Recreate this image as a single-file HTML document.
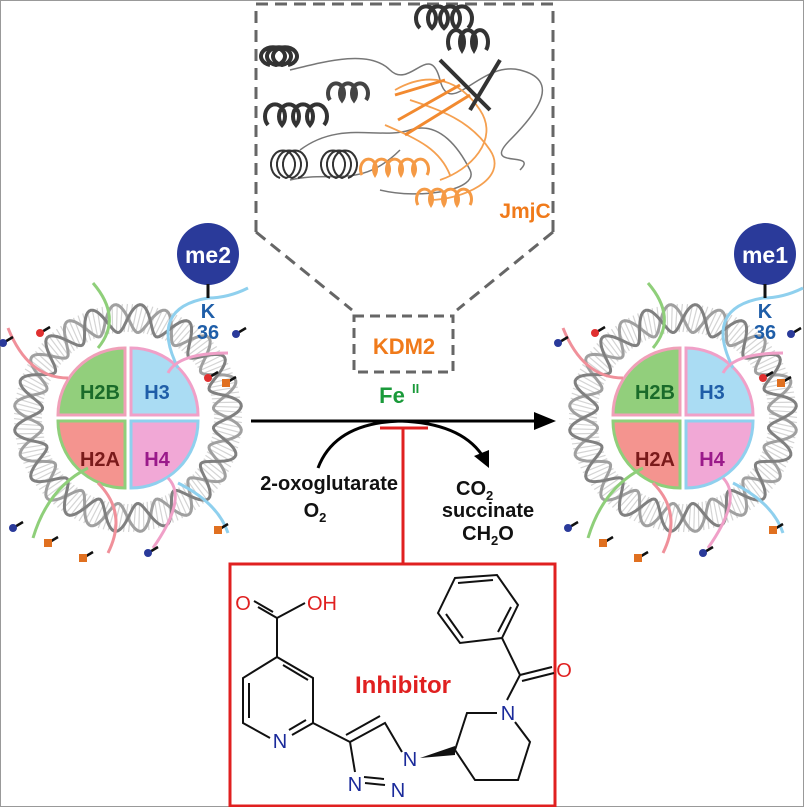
<!DOCTYPE html>
<html><head><meta charset="utf-8"><style>
html,body{margin:0;padding:0;background:#fff}
svg{display:block}
text{font-family:"Liberation Sans",sans-serif;font-weight:bold}
</style></head><body>
<svg id="s" width="805" height="807" viewBox="0 0 805 807" xmlns="http://www.w3.org/2000/svg">
<rect x="0.5" y="0.5" width="803" height="806" fill="#fff" stroke="#999" stroke-width="1"/>
<path d="M256,232 V4 H553 V232" fill="none" stroke="#666" stroke-width="3" stroke-dasharray="12,7"/>
<path d="M256,232 L352,310 M553,232 L457,310" stroke="#666" stroke-width="3" stroke-dasharray="12,7"/>
<rect x="354" y="316" width="99" height="56" fill="none" stroke="#666" stroke-width="3" stroke-dasharray="10,6"/>
<text x="404" y="354" font-size="22" fill="#f07a1a" text-anchor="middle">KDM2</text>
<text x="392" y="403" font-size="22" fill="#1a9a3a" text-anchor="middle">Fe</text>
<text x="412" y="393" font-size="13" fill="#1a9a3a">II</text>
<g id="prot"></g>
<text x="525" y="218" font-size="21" fill="#f07a1a" text-anchor="middle">JmjC</text>
<line x1="251" y1="421" x2="540" y2="421" stroke="#000" stroke-width="3"/>
<polygon points="556,421 534,412 534,430" fill="#000"/>
<path d="M318,468 Q335,423 400,421 Q460,423 482,455" fill="none" stroke="#000" stroke-width="3"/>
<polygon points="489,468 474,456 489,450" fill="#000"/>
<line x1="380" y1="428" x2="428" y2="428" stroke="#e02020" stroke-width="3"/>
<line x1="403" y1="428" x2="403" y2="564" stroke="#e02020" stroke-width="3"/>
<rect x="230" y="564" width="325" height="242" fill="none" stroke="#e02020" stroke-width="3"/>
<text x="398" y="490" font-size="20" fill="#111" text-anchor="end">2-oxoglutarate</text>
<text x="315" y="517" font-size="20" fill="#111" text-anchor="middle">O<tspan font-size="13" dy="5">2</tspan></text>
<text x="456" y="495" font-size="20" fill="#111">CO<tspan font-size="13" dy="5">2</tspan></text>
<text x="488" y="517" font-size="20" fill="#111" text-anchor="middle">succinate</text>
<text x="488" y="540" font-size="20" fill="#111" text-anchor="middle">CH<tspan font-size="13" dy="5">2</tspan><tspan dy="-5">O</tspan></text>
<g id="nuc1"></g><g id="nuc2"></g>
<g font-size="20" text-anchor="middle">
<text x="100" y="399" fill="#1a6b2a">H2B</text><text x="157" y="399" fill="#1f5ea8">H3</text>
<text x="100" y="466" fill="#7a1a1a">H2A</text><text x="157" y="466" fill="#9a1a8a">H4</text>
<text x="655" y="399" fill="#1a6b2a">H2B</text><text x="712" y="399" fill="#1f5ea8">H3</text>
<text x="655" y="466" fill="#7a1a1a">H2A</text><text x="712" y="466" fill="#9a1a8a">H4</text>
</g>
<circle cx="208" cy="254" r="31" fill="#2a3a9a"/>
<text x="208" y="263" font-size="23" fill="#fff" text-anchor="middle">me2</text>
<line x1="208" y1="284" x2="208" y2="298" stroke="#111" stroke-width="3"/>
<text x="208" y="318" font-size="20" fill="#1f5ea8" text-anchor="middle">K</text>
<text x="208" y="339" font-size="20" fill="#1f5ea8" text-anchor="middle">36</text>
<circle cx="765" cy="254" r="31" fill="#2a3a9a"/>
<text x="765" y="263" font-size="23" fill="#fff" text-anchor="middle">me1</text>
<line x1="765" y1="284" x2="765" y2="298" stroke="#111" stroke-width="3"/>
<text x="765" y="318" font-size="20" fill="#1f5ea8" text-anchor="middle">K</text>
<text x="765" y="339" font-size="20" fill="#1f5ea8" text-anchor="middle">36</text>
<g stroke="#111" stroke-width="2" fill="none">
<path d="M277,618 L277,657 L313,678 L313,723 L292,735 M270,738 L243,723 L243,678 L277,657"/>
<path d="M283,665 L308,680 M249,683 L249,718 M306,720 L289,730"/>
<path d="M277,618 L258,607 M273,612 L254,601 M277,618 L305,603"/>
<path d="M313,723 L350,742 L385,723 L402,752 M350,742 L355,772 M380,716 L346,735"/>
<path d="M365,783 L385,785 M364,777 L384,779"/>
<path d="M455,750 L467,713 L497,713 M515,722 L530,742 L518,780 L475,780 L455,750"/>
<path d="M507,700 L520,675 L502,638 L460,643 L438,613 L455,578 L497,575 L518,605 L502,638 M520,675 L552,667 M522,681 L554,673"/>
<path d="M463,638 L446,614 M458,583 L493,580 M511,607 L498,632"/>
</g>
<polygon points="420,758 455,746 455,755" fill="#111"/>
<g font-size="20" text-anchor="middle">
<text x="243" y="610" fill="#e02020" style="font-weight:normal">O</text>
<text x="322" y="610" fill="#e02020" style="font-weight:normal">OH</text>
<text x="564" y="677" fill="#e02020" style="font-weight:normal">O</text>
<text x="280" y="748" fill="#1a2a9a" style="font-weight:normal">N</text>
<text x="410" y="766" fill="#1a2a9a" style="font-weight:normal">N</text>
<text x="398" y="797" fill="#1a2a9a" style="font-weight:normal">N</text>
<text x="355" y="791" fill="#1a2a9a" style="font-weight:normal">N</text>
<text x="508" y="720" fill="#1a2a9a" style="font-weight:normal">N</text>
</g>
<text x="403" y="693" font-size="24" fill="#e02020" text-anchor="middle">Inhibitor</text>
</svg>
<script>
var NS="http://www.w3.org/2000/svg";
function el(p,t,a){var e=document.createElementNS(NS,t);for(var k in a)e.setAttribute(k,a[k]);p.appendChild(e);return e;}
function nuc(g,cx,cy){
 for(var i=0;i<140;i++){var a=i*Math.PI*2/140;var r1=86,r2=114;el(g,"line",{x1:cx+r1*Math.cos(a),y1:cy+r1*Math.sin(a),x2:cx+r2*Math.cos(a+0.04),y2:cy+r2*Math.sin(a+0.04),stroke:"#d4d4d4","stroke-width":1.2});}
 for(var s=0;s<2;s++){var d="";for(var i=0;i<=360;i++){var a=i*Math.PI/180;var r=100+14*Math.sin(a*14+s*Math.PI);d+=(i?"L":"M")+(cx+r*Math.cos(a)).toFixed(1)+","+(cy+r*Math.sin(a)).toFixed(1);}
 el(g,"path",{d:d,fill:"none",stroke:s?"#808080":"#a0a0a0","stroke-width":3});}
 var r=67,gp=3,P=Math.PI;
 function q(x0,y0,a0,a1,fill,st){var p="M"+(cx+x0)+","+(cy+y0)+" L"+(cx+x0+r*Math.cos(a0))+","+(cy+y0+r*Math.sin(a0))+" A"+r+","+r+" 0 0 1 "+(cx+x0+r*Math.cos(a1))+","+(cy+y0+r*Math.sin(a1))+" Z";el(g,"path",{d:p,fill:fill,stroke:st,"stroke-width":3});}
 q(-gp,-gp,P,1.5*P,"#92cf7c","#f0a0b8");
 q(gp,-gp,1.5*P,2*P,"#aadcf3","#f0a0c8");
 q(-gp,gp,0.5*P,P,"#f4948f","#8fcf7a");
 q(gp,gp,0,0.5*P,"#f1a8d6","#8fd0ee");
 var T=[["#8fcf7a","M"+(cx-30)+","+(cy-70)+" q25,-30 -5,-65"],["#f0909a","M"+(cx-60)+","+(cy-40)+" q-40,0 -60,-50"],
 ["#8fd0ee","M"+(cx+50)+","+(cy-50)+" q-30,-60 30,-70 q20,0 40,-10"],["#f0a0c8","M"+(cx+40)+","+(cy-45)+" q10,-20 60,-20"],
 ["#8fcf7a","M"+(cx-40)+","+(cy+50)+" q-40,20 -55,70"],["#f0909a","M"+(cx-30)+","+(cy+65)+" q30,30 10,70"],
 ["#f0a0c8","M"+(cx+40)+","+(cy+60)+" q20,20 -15,70"],["#8fd0ee","M"+(cx+50)+","+(cy+65)+" q40,20 50,50"]];
 T.forEach(function(t){el(g,"path",{d:t[1],fill:"none",stroke:t[0],"stroke-width":3});});
 var M=[[-125,-75,"#2a3a9a"],[-88,-85,"#e03030"],[-80,125,"#e07020"],[-115,110,"#2a3a9a"],[-45,140,"#e07020"],[20,135,"#2a3a9a"],[90,112,"#e07020"],[108,-84,"#2a3a9a"],[98,-35,"#e07020"],[80,-40,"#e03030"]];
 M.forEach(function(m){var x=cx+m[0],y=cy+m[1];el(g,"line",{x1:x,y1:y,x2:x+10,y2:y-6,stroke:"#111","stroke-width":2.5});if(m[2]=="#e07020")el(g,"rect",{x:x-4,y:y-4,width:8,height:8,fill:m[2]});else el(g,"circle",{cx:x,cy:y,r:4,fill:m[2]});});
}
nuc(document.getElementById("nuc1"),128,418);
nuc(document.getElementById("nuc2"),683,418);
var pg=document.getElementById("prot");
function coil(x,y,n,dx,rx,ry,col,w){var d="M"+x+","+y;for(var i=0;i<n;i++){d+=" a"+rx+","+ry+" 0 1 1 "+dx+",0";}el(pg,"path",{d:d,fill:"none",stroke:col,"stroke-width":w});}
function ln(d,col,w){el(pg,"path",{d:d,fill:"none",stroke:col,"stroke-width":w});}
ln("M290,70 C330,60 370,50 390,70 S430,40 440,80 S480,60 520,70 S540,110 510,140 S540,150 520,170 M300,150 C340,120 380,140 410,130 S460,150 470,170 S420,200 380,190 M290,180 C330,170 360,190 400,150","#777",1.5);
ln("M395,90 C430,70 460,80 480,110 S470,170 440,180 M410,100 C440,110 470,120 490,150 S460,200 430,200 M385,125 C420,140 440,150 450,175","#f5a050",1.8);
ln("M395,95 L445,80 M398,120 L460,85 M405,135 L470,95","#f28a30",3);
coil(270,65,3,6,12,9,"#333",4);
coil(268,125,4,14,10,12,"#333",4);
coil(330,100,3,12,8,10,"#444",4);
coil(420,28,4,12,10,12,"#333",4);
coil(450,50,3,12,8,12,"#333",4);
coil(280,178,3,6,12,14,"#333",2);
coil(330,178,3,6,12,14,"#333",2);
coil(362,175,5,13,8,10,"#f59a45",3);
coil(418,205,4,13,8,10,"#f59a45",3);
ln("M440,60 L490,110 M500,60 L470,110","#333",4);
</script>
</body></html>
